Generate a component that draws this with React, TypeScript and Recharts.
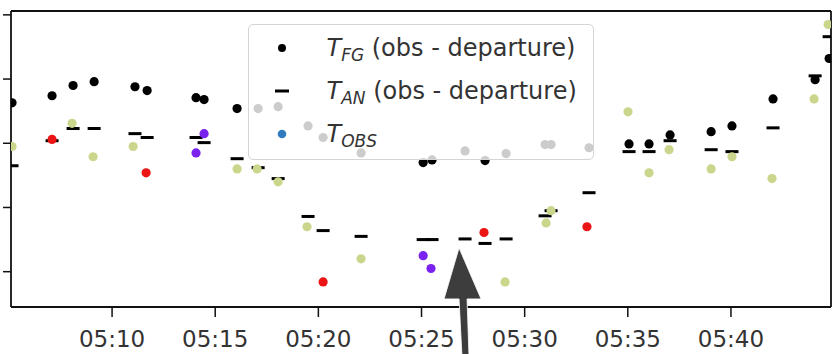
import { ScatterChart, Scatter, XAxis, YAxis, Legend, ReferenceDot } from "recharts";

// minutes after 05:00 for each sounding level
const times = [
  5.15, 7.09, 8.11, 9.13, 11.11, 11.7, 14.07, 14.46, 16.06, 17.08,
  18.05, 19.5, 20.23, 22.07, 25.08, 25.51, 27.11, 28.08, 29.1, 30.99,
  31.28, 33.12, 35.06, 36.03, 37.05, 39.04, 40.05, 42.04, 44.08, 44.76,
];
const fgValues = [
  2.63, 2.74, 2.9, 2.96, 2.88, 2.82, 2.71, 2.68, 2.54, 2.54,
  2.57, 2.27, 2.09, 1.85, 1.7, 1.74, 1.88, 1.73, 1.84, 1.98,
  1.98, 1.93, 1.99, 1.99, 2.13, 2.18, 2.27, 2.69, 2.99, 3.32,
];
const anValues = [
  1.65, 2.04, 2.23, 2.23, 2.15, 2.09, 2.09, 2.01, 1.76, 1.62,
  1.45, 0.86, 0.64, 0.55, 0.5, 0.5, 0.51, 0.44, 0.51, 0.87,
  0.95, 1.23, 1.87, 1.87, 2.04, 1.9, 1.87, 2.24, 3.05, 3.66,
];

const obsGreenTimes = [
  5.15, 8.06, 9.08, 11.02, 16.06, 17.03, 18.05, 19.45, 22.07, 29.05,
  31.04, 31.28, 35.01, 36.03, 37.0, 39.04, 40.05, 41.99, 44.03, 44.71,
];
const obsGreenValues = [
  1.95, 2.31, 1.79, 1.95, 1.6, 1.6, 1.4, 0.7, 0.2, -0.16,
  0.76, 0.95, 2.49, 1.54, 1.9, 1.6, 1.79, 1.45, 2.69, 3.85,
];
const obsRedTimes = [7.09, 11.65, 20.23, 28.03, 33.02];
const obsRedValues = [2.06, 1.54, -0.16, 0.61, 0.7];
const obsPurpleTimes = [14.07, 14.46, 25.08, 25.46];
const obsPurpleValues = [1.85, 2.15, 0.25, 0.05];

const xTicks = [10, 15, 20, 25, 30, 35, 40];
const yTicks = [0, 1, 2, 3, 4];
const xDomain = [5.1, 44.85];
const yDomain = [-0.55, 4.06];
const arrowTip = { t: 26.82, v: 0.37 };

const toPoints = (ts: number[], vs: number[]) => ts.map((t, i) => ({ t, v: vs[i] }));

const fmtTime = (m: number) => `05:${String(m).padStart(2, "0")}`;

const dot = (fill: string) => (p: any) => <circle cx={p.cx} cy={p.cy} r={4.6} fill={fill} />;
const dash = (p: any) => <rect x={p.cx - 6.5} y={p.cy - 1.5} width={13} height={3} fill="#000" />;

const Arrow = (p: any) => {
  const pts = [[0, 0], [22, 51], [8, 51], [10, 110], [3, 110], [0, 51], [-15, 51]]
    .map(([dx, dy]) => `${p.cx + dx},${p.cy + dy}`)
    .join(" ");
  return <polygon points={pts} fill="#3d3d3d" stroke="#fff" strokeWidth={0.8} />;
};

const sub = (s: string) => (
  <span style={{ fontSize: 17, position: "relative", top: 5, fontStyle: "italic" }}>{s}</span>
);

function LegendBox() {
  const rows = [
    { marker: <circle cx={10} cy={10} r={4} fill="#000" />, label: "FG", rest: " (obs - departure)" },
    { marker: <rect x={3} y={8.5} width={14} height={3} fill="#000" />, label: "AN", rest: " (obs - departure)" },
    { marker: <circle cx={10} cy={10} r={4.3} fill="#2f7bbf" />, label: "OBS", rest: "" },
  ];
  return (
    <div style={{ paddingTop: 1, fontFamily: "DejaVu Sans", fontSize: 24, color: "#333" }}>
      {rows.map((r) => (
        <div key={r.label} style={{ height: 43, display: "flex", alignItems: "center" }}>
          <div style={{ width: 65, display: "flex", justifyContent: "center" }}>
            <svg width={20} height={20}>{r.marker}</svg>
          </div>
          <div style={{ marginLeft: 12.5, whiteSpace: "pre" }}>
            <span style={{ fontStyle: "italic" }}>T</span>
            {sub(r.label)}
            {r.rest}
          </div>
        </div>
      ))}
    </div>
  );
}

const spine = { stroke: "#111", strokeWidth: 1.8 };
const tickMark = { stroke: "#111", strokeWidth: 1.5 };

export default function App() {
  return (
    <div style={{ position: "absolute", left: 0, top: 0 }}>
      <ScatterChart width={836} height={354} margin={{ top: 10, right: 4, bottom: 0, left: 10 }}>
        <XAxis
          type="number"
          dataKey="t"
          domain={xDomain}
          ticks={xTicks}
          interval={0}
          tickFormatter={fmtTime}
          height={47}
          tickSize={10}
          tickMargin={14}
          axisLine={spine}
          tickLine={tickMark}
          tick={{ fill: "#333", fontSize: 23, fontFamily: "DejaVu Sans" }}
          allowDataOverflow
        />
        <XAxis
          xAxisId="top"
          orientation="top"
          type="number"
          domain={xDomain}
          height={1}
          tick={false}
          tickLine={false}
          axisLine={spine}
          allowDataOverflow
        />
        <YAxis
          type="number"
          dataKey="v"
          domain={yDomain}
          ticks={yTicks}
          interval={0}
          width={1}
          tickSize={8}
          tickFormatter={() => ""}
          axisLine={spine}
          tickLine={tickMark}
          allowDataOverflow
        />
        <YAxis
          yAxisId="right"
          orientation="right"
          type="number"
          domain={yDomain}
          width={1}
          tick={false}
          tickLine={false}
          axisLine={spine}
          allowDataOverflow
        />
        <Scatter data={toPoints(times, fgValues)} shape={dot("#000")} isAnimationActive={false} />
        <Scatter data={toPoints(times, anValues)} shape={dash} isAnimationActive={false} />
        <Scatter data={toPoints(obsGreenTimes, obsGreenValues)} shape={dot("#cbd68c")} isAnimationActive={false} />
        <Scatter data={toPoints(obsRedTimes, obsRedValues)} shape={dot("#ec1515")} isAnimationActive={false} />
        <Scatter data={toPoints(obsPurpleTimes, obsPurpleValues)} shape={dot("#7a22ee")} isAnimationActive={false} />
        <ReferenceDot x={arrowTip.t} y={arrowTip.v} r={1} shape={Arrow} ifOverflow="visible" />
        <Legend
          layout="vertical"
          align="center"
          verticalAlign="middle"
          content={() => <LegendBox />}
          wrapperStyle={{
            left: 248,
            top: 24,
            width: 346,
            height: 136,
            boxSizing: "border-box",
            border: "1.5px solid #d5d5d5",
            borderRadius: 5,
            background: "rgba(255,255,255,0.8)",
          }}
        />
      </ScatterChart>
    </div>
  );
}
